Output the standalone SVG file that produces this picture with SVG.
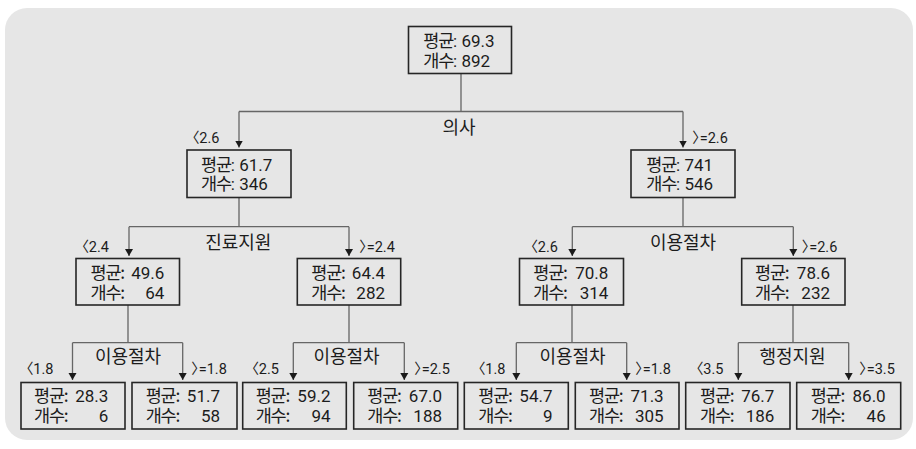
<svg xmlns="http://www.w3.org/2000/svg" width="916" height="449" viewBox="0 0 916 449">
<style>
.bg{fill:#e6e6e6}
.box{fill:#e6e6e6;stroke:#262626;stroke-width:1.6}
.conn{fill:none;stroke:#666;stroke-width:1.3}
.t{font-family:Roboto,"Noto Sans CJK KR",sans-serif;font-size:17px;fill:#1c1c1c}
.k{font-family:"Noto Sans CJK KR",sans-serif;font-size:17.5px;letter-spacing:-1.2px}
.e{text-anchor:end}
.lab{font-family:"Noto Sans CJK KR",sans-serif;font-size:18px;fill:#1c1c1c;text-anchor:middle}
.thr{font-family:Roboto,"Noto Sans CJK KR",sans-serif;font-size:14.5px;fill:#1c1c1c;font-feature-settings:"palt"}
</style>
<defs>
<marker id="ah" markerUnits="userSpaceOnUse" markerWidth="9" markerHeight="8" refX="4.5" refY="7" orient="0">
<path d="M0.5,0 L8.5,0 L4.5,7 Z" fill="#1a1a1a"/>
</marker>
</defs>
<rect class="bg" x="5" y="8" width="908" height="432" rx="22" ry="22"/>

<g id="connectors" class="conn">
<path d="M461,73.5 V111.5 M239,111.5 H683"/>
<path d="M239,111.5 V147.5" marker-end="url(#ah)"/>
<path d="M683,111.5 V147.5" marker-end="url(#ah)"/>
<path d="M239,197.5 V226.7 M129,226.7 H349"/>
<path d="M129,226.7 V256" marker-end="url(#ah)"/>
<path d="M349,226.7 V256" marker-end="url(#ah)"/>
<path d="M683,197.5 V226.7 M572.3,226.7 H793.3"/>
<path d="M572.3,226.7 V256" marker-end="url(#ah)"/>
<path d="M793.3,226.7 V256" marker-end="url(#ah)"/>
<path d="M128,305 V342.7 M72.5,342.7 H182.7"/>
<path d="M72.5,342.7 V380" marker-end="url(#ah)"/>
<path d="M182.7,342.7 V380" marker-end="url(#ah)"/>
<path d="M349,305 V342.7 M293.3,342.7 H404.3"/>
<path d="M293.3,342.7 V380" marker-end="url(#ah)"/>
<path d="M404.3,342.7 V380" marker-end="url(#ah)"/>
<path d="M572,305 V342.7 M516.3,342.7 H626.7"/>
<path d="M516.3,342.7 V380" marker-end="url(#ah)"/>
<path d="M626.7,342.7 V380" marker-end="url(#ah)"/>
<path d="M793,305 V342.7 M738.3,342.7 H848.7"/>
<path d="M738.3,342.7 V380" marker-end="url(#ah)"/>
<path d="M848.7,342.7 V380" marker-end="url(#ah)"/>
</g>

<g id="labels">
<text class="lab" x="459" y="134">의사</text>
<text class="lab" x="238.3" y="249">진료지원</text>
<text class="lab" x="683" y="249">이용절차</text>
<text class="lab" x="128" y="363">이용절차</text>
<text class="lab" x="346.5" y="363">이용절차</text>
<text class="lab" x="572.5" y="363">이용절차</text>
<text class="lab" x="792.5" y="363">행정지원</text>
<text class="thr" x="192" y="143.3">〈2.6</text>
<text class="thr" x="692.5" y="143.3">〉=2.6</text>
<text class="thr" x="81.5" y="251.7">〈2.4</text>
<text class="thr" x="359.5" y="251.7">〉=2.4</text>
<text class="thr" x="530.5" y="251.7">〈2.6</text>
<text class="thr" x="802" y="251.7">〉=2.6</text>
<text class="thr" x="26" y="374">〈1.8</text>
<text class="thr" x="191.5" y="374">〉=1.8</text>
<text class="thr" x="251.5" y="374">〈2.5</text>
<text class="thr" x="414.5" y="374">〉=2.5</text>
<text class="thr" x="478" y="374">〈1.8</text>
<text class="thr" x="635.5" y="374">〉=1.8</text>
<text class="thr" x="696" y="374">〈3.5</text>
<text class="thr" x="859.5" y="374">〉=3.5</text>
</g>

<g id="root">
<rect class="box" x="408.5" y="26.5" width="103" height="47"/>
<text class="t" x="423.3" y="46.5"><tspan class="k">평균</tspan>:  69.3</text>
<text class="t" x="423.3" y="66.5"><tspan class="k">개수</tspan>:  892</text>
</g>

<g id="n_l">
<rect class="box" x="187" y="150" width="104" height="47.5"/>
<text class="t" x="201" y="170.5"><tspan class="k">평균</tspan>: 61.7</text>
<text class="t" x="201" y="190.3"><tspan class="k">개수</tspan>: 346</text>
</g>
<g id="n_r">
<rect class="box" x="631" y="150" width="104" height="47.5"/>
<text class="t" x="646.3" y="170.5"><tspan class="k">평균</tspan>: 741</text>
<text class="t" x="646.3" y="190.3"><tspan class="k">개수</tspan>: 546</text>
</g>

<g id="n_ll">
<rect class="box" x="76" y="258.5" width="103.5" height="46.5"/>
<text class="t" x="90.5" y="278.5"><tspan class="k">평균:</tspan></text>
<text class="t e" x="164.3" y="278.5">49.6</text>
<text class="t" x="90.5" y="298.5"><tspan class="k">개수:</tspan></text>
<text class="t e" x="164.3" y="298.5">64</text>
</g>
<g id="n_lr">
<rect class="box" x="297.3" y="258.5" width="103.4" height="46.5"/>
<text class="t" x="311.3" y="278.5"><tspan class="k">평균:</tspan></text>
<text class="t e" x="385" y="278.5">64.4</text>
<text class="t" x="311.3" y="298.5"><tspan class="k">개수:</tspan></text>
<text class="t e" x="385" y="298.5">282</text>
</g>
<g id="n_rl">
<rect class="box" x="519.5" y="258.5" width="104" height="46.5"/>
<text class="t" x="533.3" y="278.5"><tspan class="k">평균:</tspan></text>
<text class="t e" x="608.3" y="278.5">70.8</text>
<text class="t" x="533.3" y="298.5"><tspan class="k">개수:</tspan></text>
<text class="t e" x="608.3" y="298.5">314</text>
</g>
<g id="n_rr">
<rect class="box" x="741.7" y="258.5" width="103.3" height="46.5"/>
<text class="t" x="755" y="278.5"><tspan class="k">평균:</tspan></text>
<text class="t e" x="830" y="278.5">78.6</text>
<text class="t" x="755" y="298.5"><tspan class="k">개수:</tspan></text>
<text class="t e" x="830" y="298.5">232</text>
</g>

<g id="n_lll">
<rect class="box" x="21" y="382.5" width="104" height="46.5"/>
<text class="t" x="34" y="401.5"><tspan class="k">평균:</tspan></text>
<text class="t e" x="108.3" y="401.5">28.3</text>
<text class="t" x="34" y="421.5"><tspan class="k">개수:</tspan></text>
<text class="t e" x="108.3" y="421.5">6</text>
</g>
<g id="n_llr">
<rect class="box" x="132" y="382.5" width="105" height="46.5"/>
<text class="t" x="145.7" y="401.5"><tspan class="k">평균:</tspan></text>
<text class="t e" x="220" y="401.5">51.7</text>
<text class="t" x="145.7" y="421.5"><tspan class="k">개수:</tspan></text>
<text class="t e" x="220" y="421.5">58</text>
</g>
<g id="n_lrl">
<rect class="box" x="242.7" y="382.5" width="103.6" height="46.5"/>
<text class="t" x="255.7" y="401.5"><tspan class="k">평균:</tspan></text>
<text class="t e" x="330.5" y="401.5">59.2</text>
<text class="t" x="255.7" y="421.5"><tspan class="k">개수:</tspan></text>
<text class="t e" x="330.5" y="421.5">94</text>
</g>
<g id="n_lrr">
<rect class="box" x="353.7" y="382.5" width="104" height="46.5"/>
<text class="t" x="367.3" y="401.5"><tspan class="k">평균:</tspan></text>
<text class="t e" x="442" y="401.5">67.0</text>
<text class="t" x="367.3" y="421.5"><tspan class="k">개수:</tspan></text>
<text class="t e" x="442" y="421.5">188</text>
</g>
<g id="n_rll">
<rect class="box" x="464.3" y="382.5" width="104" height="46.5"/>
<text class="t" x="478.3" y="401.5"><tspan class="k">평균:</tspan></text>
<text class="t e" x="552.5" y="401.5">54.7</text>
<text class="t" x="478.3" y="421.5"><tspan class="k">개수:</tspan></text>
<text class="t e" x="552.5" y="421.5">9</text>
</g>
<g id="n_rlr">
<rect class="box" x="575.3" y="382.5" width="103.7" height="46.5"/>
<text class="t" x="589" y="401.5"><tspan class="k">평균:</tspan></text>
<text class="t e" x="663.7" y="401.5">71.3</text>
<text class="t" x="589" y="421.5"><tspan class="k">개수:</tspan></text>
<text class="t e" x="663.7" y="421.5">305</text>
</g>
<g id="n_rrl">
<rect class="box" x="685.7" y="382.5" width="104.3" height="46.5"/>
<text class="t" x="700" y="401.5"><tspan class="k">평균:</tspan></text>
<text class="t e" x="774.3" y="401.5">76.7</text>
<text class="t" x="700" y="421.5"><tspan class="k">개수:</tspan></text>
<text class="t e" x="774.3" y="421.5">186</text>
</g>
<g id="n_rrr">
<rect class="box" x="796.7" y="382.5" width="104" height="46.5"/>
<text class="t" x="810.7" y="401.5"><tspan class="k">평균:</tspan></text>
<text class="t e" x="885.7" y="401.5">86.0</text>
<text class="t" x="810.7" y="421.5"><tspan class="k">개수:</tspan></text>
<text class="t e" x="885.7" y="421.5">46</text>
</g>
</svg>
